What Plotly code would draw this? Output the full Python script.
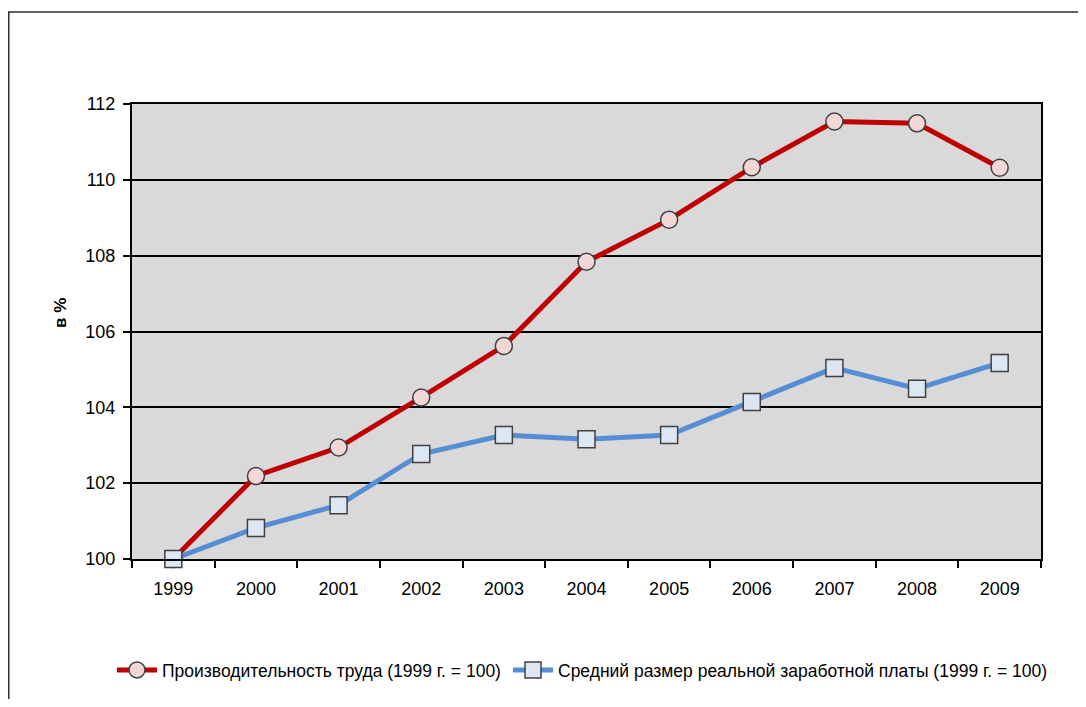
import plotly.graph_objects as go

years = ["1999", "2000", "2001", "2002", "2003", "2004", "2005", "2006", "2007", "2008", "2009"]
productivity = [100.0, 102.19, 102.94, 104.26, 105.62, 107.84, 108.95, 110.33, 111.54, 111.49, 110.32]
real_wage = [100.0, 100.82, 101.42, 102.77, 103.27, 103.16, 103.27, 104.14, 105.04, 104.49, 105.17]

name_prod = "Производительность труда (1999 г. = 100)"
name_wage = "Средний размер реальной заработной платы (1999 г. = 100)"
y_title = "в %"

FONT = "Liberation Sans Narrow, Arial Narrow, Liberation Sans, Arial, sans-serif"

fig = go.Figure()
fig.add_trace(go.Scatter(
    x=years, y=productivity, name=name_prod, mode="lines+markers",
    line=dict(color="#c00000", width=5),
    marker=dict(symbol="circle", size=17, color="#f2d7d6", line=dict(color="#404040", width=1.5)),
    cliponaxis=False, legend="legend",
))
fig.add_trace(go.Scatter(
    x=years, y=real_wage, name=name_wage, mode="lines+markers",
    line=dict(color="#558ed5", width=5),
    marker=dict(symbol="square", size=17, color="#dde7f3", line=dict(color="#404040", width=1.5)),
    cliponaxis=False, legend="legend2",
))

# page body has an 8px margin: figure coordinates are page coordinates minus 8
OFF = 8
W, H = 1070, 691
L, T = 132 - OFF, 104 - OFF
R = W - (1041 - OFF)
B = H - (559 - OFF)
pw, ph = W - L - R, H - T - B

def px_x(x):
    return (x - OFF - L) / pw

def px_y(y):
    return (H - B - (y - OFF)) / ph

def cont_x(x):
    return (x - OFF) / W

def cont_y(y):
    return 1 - (y - OFF) / H

def legend_at(xpage):
    return dict(
        orientation="h", xref="container", x=cont_x(xpage), xanchor="left",
        yref="container", y=cont_y(670), yanchor="middle",
        font=dict(family=FONT, size=17.5, color="black"),
        itemwidth=40, bgcolor="rgba(0,0,0,0)",
    )

fig.update_layout(
    width=W, height=H,
    margin=dict(l=L, r=R, t=T, b=B),
    paper_bgcolor="white",
    plot_bgcolor="#d9d9d9",
    font=dict(family=FONT, size=18, color="black"),
    showlegend=True,
    legend=legend_at(118 - 6),
    legend2=legend_at(514 - 6),
    xaxis=dict(
        type="category", range=[-0.5, 10.5],
        showline=True, linecolor="black", linewidth=2, mirror=True,
        ticks="outside", ticklen=7, tickcolor="black", tickwidth=1.5,
        tickson="boundaries", showgrid=False,
        tickfont=dict(family=FONT, size=18), ticklabelstandoff=12,
    ),
    yaxis=dict(
        range=[100, 112], dtick=2, tick0=100,
        showline=True, linecolor="black", linewidth=2, mirror=True,
        ticks="outside", ticklen=7, tickcolor="black", tickwidth=1.5,
        showgrid=True, gridcolor="black", gridwidth=1.5,
        zeroline=False,
        tickfont=dict(family=FONT, size=18), ticklabelstandoff=4,
    ),
    shapes=[dict(
        type="rect", xref="paper", yref="paper",
        x0=px_x(8.75), x1=px_x(1100), y0=px_y(720), y1=px_y(12),
        line=dict(color="#303030", width=1.5), fillcolor="rgba(0,0,0,0)", layer="below",
    )],
    annotations=[dict(
        text="<b>" + y_title + "</b>", xref="paper", yref="paper",
        x=px_x(60), y=px_y(313), textangle=-90, showarrow=False,
        font=dict(family="Liberation Sans, Arial, sans-serif", size=17, color="black"),
        xanchor="center", yanchor="middle",
    )],
)

fig.write_html("out.html")
